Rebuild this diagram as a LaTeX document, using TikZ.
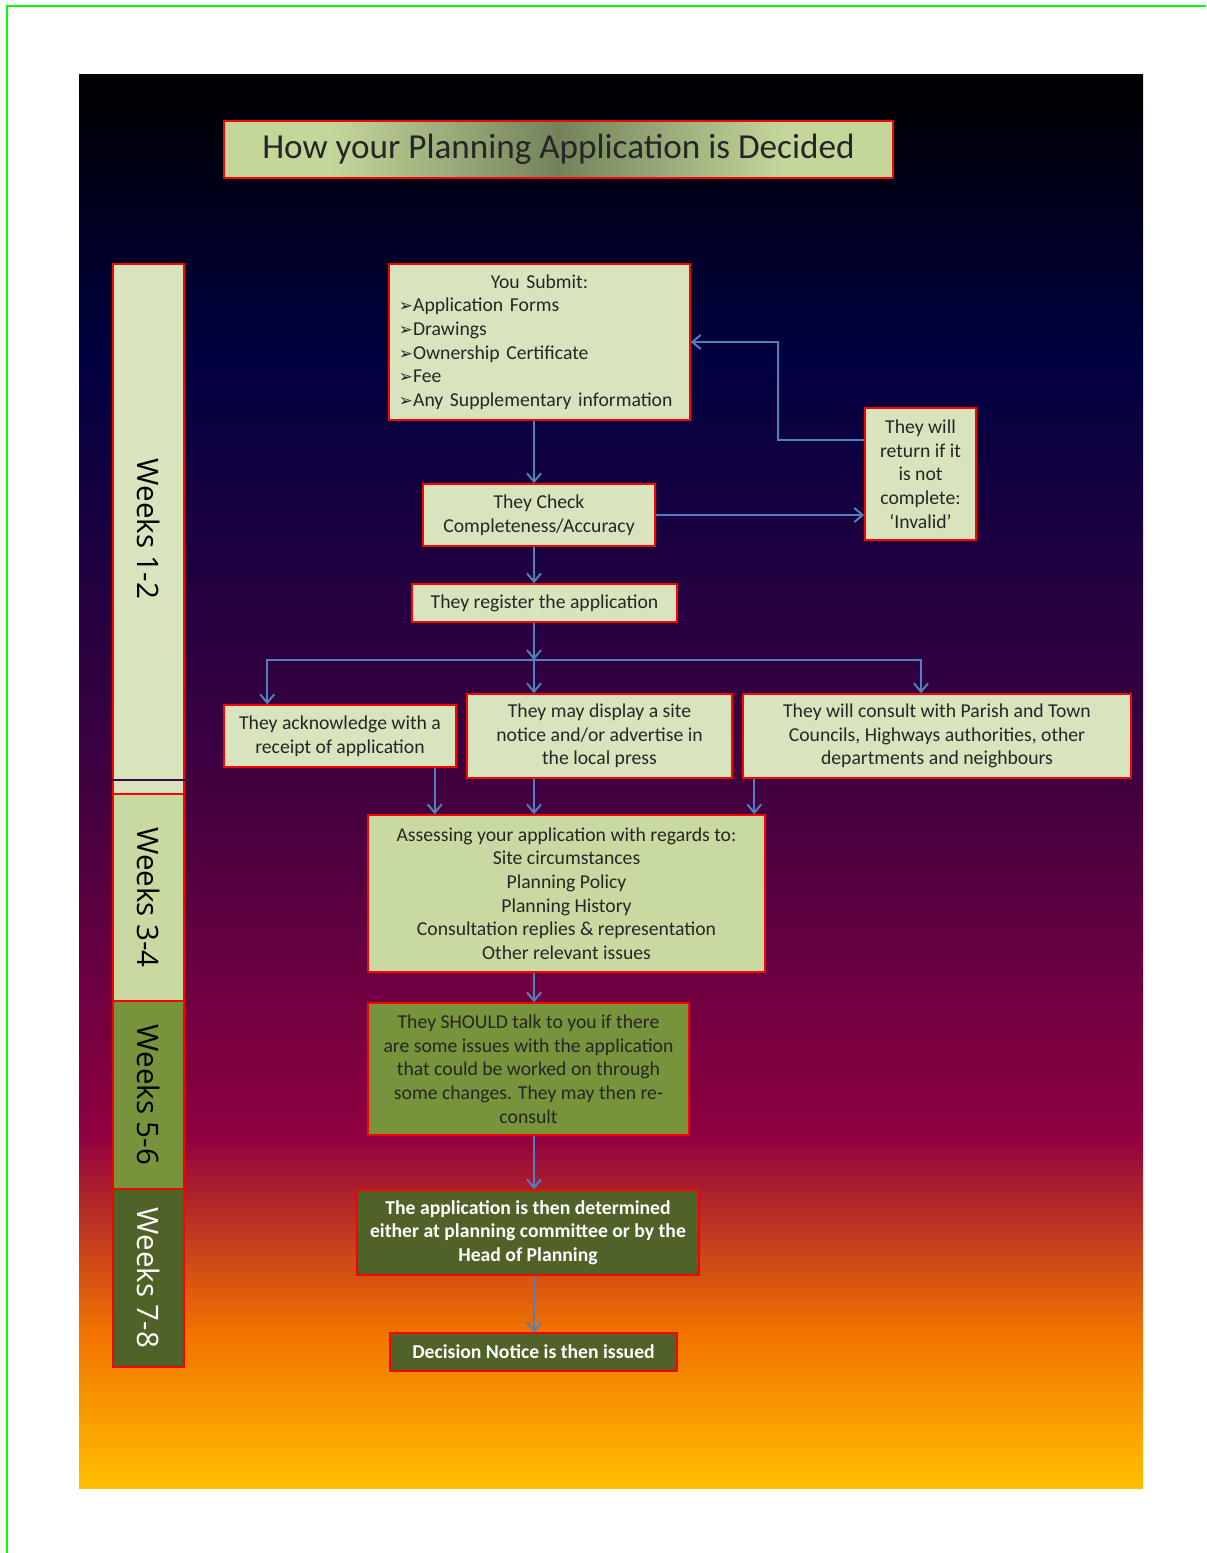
\documentclass[tikz,border=0pt]{standalone}
\usepackage{fontspec}
\setmainfont{Carlito}
\newfontfamily\weekfont{Open Sans}
\newfontfamily\dingfont{DejaVu Sans}
\usetikzlibrary{positioning,arrows.meta}
\definecolor{palegreen}{HTML}{D7E4BD}
\definecolor{lightolive}{HTML}{C8DAA2}
\definecolor{midolive}{HTML}{77933C}
\definecolor{darkolive}{HTML}{4F6228}
\definecolor{titleedge}{HTML}{C4D79B}
\definecolor{titlemid}{HTML}{72835A}
\definecolor{flowblue}{HTML}{4F81BD}
\definecolor{framegreen}{HTML}{00FF00}
\definecolor{sunA}{HTML}{000000}
\definecolor{sunB}{HTML}{000040}
\definecolor{sunC}{HTML}{400040}
\definecolor{sunD}{HTML}{8F0040}
\definecolor{sunE}{HTML}{F27300}
\definecolor{sunF}{HTML}{FFBF00}
\pgfdeclareverticalshading{latesunset}{100bp}{color(0bp)=(sunF); color(25bp)=(sunF);
  color(30.5bp)=(sunE); color(37.5bp)=(sunD); color(50bp)=(sunC);
  color(65bp)=(sunB); color(75bp)=(sunA); color(100bp)=(sunA)}
\pgfdeclarehorizontalshading{titleglow}{100bp}{color(0bp)=(titleedge); color(33bp)=(titleedge);
  color(50bp)=(titlemid); color(67bp)=(titleedge); color(100bp)=(titleedge)}
\newcommand{\boxfont}{\fontsize{14pt}{16.8pt}\selectfont}
\newcommand{\arrowbullet}{{\dingfont\fontsize{12pt}{12pt}\selectfont\bfseries ➢}}
\tikzset{
    titlebox/.style={
        draw=red,
        line width=1.2pt,
        shading=titleglow,
        font=\fontsize{25pt}{30pt}\selectfont,
        text=black!85,
        align=center
    },
    weekbar/.style={
        draw=red,
        line width=1pt,
        rotate=-90,
        font=\weekfont\fontsize{21pt}{24pt}\selectfont,
        minimum height=1.775cm
    },
    palebox/.style={
        draw=red,
        line width=1pt,
        fill=palegreen,
        font=\boxfont,
        text=black!85,
        align=center,
        inner sep=2pt
    },
    olivebox/.style={
        draw=red,
        line width=1pt,
        fill=midolive,
        font=\boxfont,
        text=black!85,
        align=center,
        inner sep=2pt
    },
    darkbox/.style={
        draw=red,
        line width=1pt,
        fill=darkolive,
        font=\boxfont\bfseries,
        text=white,
        align=center,
        inner sep=2pt
    },
    flow/.style={-{Straight Barb[length=6pt,width=10pt]}, draw=flowblue, line width=1.4pt}
}

\begin{document}
\begin{tikzpicture}[x=0.025cm, y=-0.025cm]

\useasboundingbox (0,0) rectangle (1206,1553);
\draw[framegreen, line width=1.5pt] (7,1553) -- (7,6) -- (1206,6);
\shade[shading=latesunset] (79,74) rectangle (1143,1488);

\node[titlebox, minimum width=16.725cm, minimum height=1.425cm] (title) at (558.5,149.5)
{How your Planning Application is Decided};

% Week bar
\node[weekbar, fill=palegreen, minimum width=13.25cm] (wk12) at (148.5,529) {Weeks 1-2};
\draw[sunC, line width=0.8pt] (112,780) -- (185,780);
\node[weekbar, fill=lightolive, minimum width=5.175cm] (wk34) at (148.5,897.5) {Weeks 3-4};
\node[weekbar, fill=midolive, minimum width=4.7cm] (wk56) at (148.5,1095) {Weeks 5-6};
\node[weekbar, fill=darkolive, text=white, minimum width=4.45cm] (wk78) at (148.5,1278) {Weeks 7-8};

% Weeks 1-2
\node[palebox, align=left, inner xsep=0.25cm, text width=7.025cm, minimum height=3.9cm] (submit) at (539.5,342)
{\makebox[7.025cm][c]{You Submit:}\\
\arrowbullet Application Forms\\
\arrowbullet Drawings\\
\arrowbullet Ownership Certificate\\
\arrowbullet Fee\\
\arrowbullet Any Supplementary information};

\node[palebox, minimum width=5.8cm, minimum height=1.55cm] (check) at (539,515)
{They Check\\Completeness/Accuracy};

\node[palebox, minimum width=2.775cm, minimum height=3.3cm] (invalid) at (920.5,474)
{They will\\return if it\\is not\\complete:\\‘Invalid’};

\node[palebox, minimum width=6.625cm, minimum height=0.95cm] (register) at (544.5,603)
{They register the application};

\coordinate (split) at (534,660);
\coordinate (back) at (778,440);

\draw[flow] (submit.south -| split) -- (check.north -| split);
\draw[flow] (check.east) -- (check.east -| invalid.west);
\draw[flow] (invalid.west |- back) -- (back) |- (submit.east);
\draw[flow] (check.south -| split) -- (register.north -| split);
\draw[flow] (register.south -| split) -- (split);

% Three parallel steps
\node[palebox, minimum width=5.8cm, minimum height=1.55cm] (ack) at (340,736)
{They acknowledge with a\\receipt of application};

\node[palebox, minimum width=6.625cm, minimum height=2.1cm] (display) at (599.5,736)
{They may display a site\\notice and/or advertise in\\the local press};

\node[palebox, minimum width=9.7cm, minimum height=2.1cm] (consult) at (937,736)
{They will consult with Parish and Town\\Councils, Highways authorities, other\\departments and neighbours};

\draw[flow] (split) -| ([xshift=1.1cm]ack.north west);
\draw[flow] (split) -- (display.north -| split);
\draw[flow] (split) -| ([xshift=-0.4cm]consult.north);

% Weeks 3-4
\node[palebox, fill=lightolive, minimum width=9.925cm, minimum height=3.925cm] (assess) at (566.5,893.5)
{Assessing your application with regards to:\\Site circumstances\\Planning Policy\\Planning History\\
Consultation replies \& representation\\Other relevant issues};

\draw[flow] ([xshift=-0.55cm]ack.south east) -- ([xshift=-0.55cm]ack.south east |- assess.north);
\draw[flow] (display.south -| split) -- (assess.north -| split);
\draw[flow] ([xshift=0.3cm]consult.south west) -- ([xshift=0.3cm]consult.south west |- assess.north);

% Weeks 5-8
\node[olivebox, minimum width=8.025cm, minimum height=3.3cm] (talk) at (528.5,1069)
{They SHOULD talk to you if there\\are some issues with the application\\that could be worked on through\\
some changes. They may then re-\\consult};

\node[darkbox, minimum width=8.55cm, minimum height=2.125cm] (decide) at (528,1232.5)
{The application is then determined\\either at planning committee or by the\\Head of Planning};

\node[darkbox, minimum width=7.175cm, minimum height=0.95cm] (notice) at (533.5,1352)
{Decision Notice is then issued};

\draw[flow] (assess.south -| split) -- (talk.north -| split);
\draw[flow] (talk.south -| split) -- (decide.north -| split);
\draw[flow] (decide.south -| split) -- (notice.north -| split);

\end{tikzpicture}
\end{document}
